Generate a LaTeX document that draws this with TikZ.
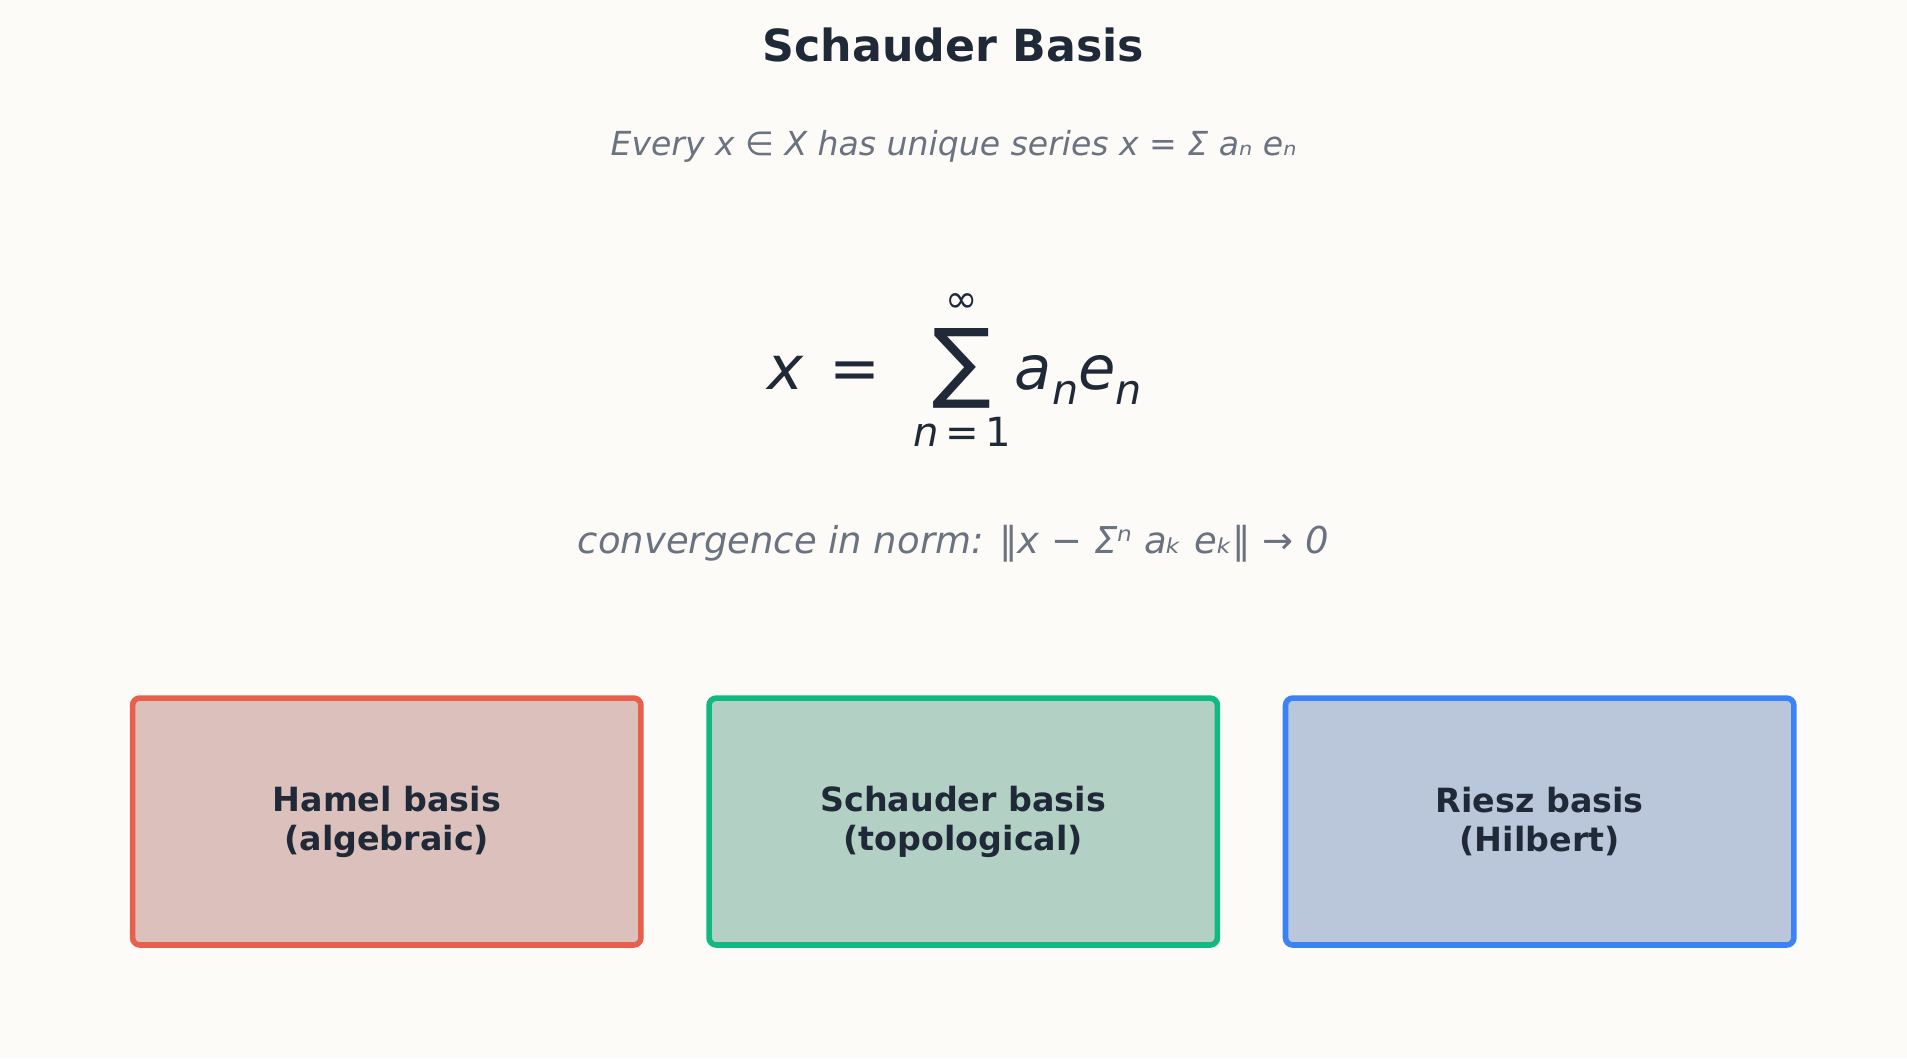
\documentclass[tikz,border=0pt]{standalone}
\usepackage{fontspec}
\setmainfont{DejaVu Sans}
\definecolor{bg}{HTML}{FCFBF8}
\definecolor{ink}{HTML}{1F2937}
\definecolor{gr}{HTML}{6B7280}
\definecolor{rB}{HTML}{E8604C}\definecolor{rF}{HTML}{DBC0BB}
\definecolor{gB}{HTML}{10B981}\definecolor{gF}{HTML}{B3D0C5}
\definecolor{bB}{HTML}{3B82F6}\definecolor{bF}{HTML}{BAC6D9}
\tikzset{
 card/.style={draw, line width=2.3pt, rounded corners=3pt, minimum width=209pt, minimum height=101.5pt, text=ink, font=\fontsize{13.7}{16}\selectfont\bfseries, align=center},
 fm/.style={text=ink, inner sep=0pt, anchor=base}
}
\begin{document}
\begin{tikzpicture}[x=0.5pt,y=-0.5pt]
\fill[bg] (0,0) rectangle (1568,870);
\useasboundingbox (0,0) rectangle (1568,870);
\node[text=ink, font=\fontsize{18.2}{20}\selectfont\bfseries] (title) at (784,37) {Schauder Basis};
\node[text=gr, font=\fontsize{13.6}{16}\selectfont\itshape] (sub) at (784,120) {Every x ∈ X has unique series x = Σ aₙ eₙ};
\node[fm, font=\fontsize{25}{28}\selectfont\itshape] (fx) at (646,320) {x};
\node[fm, font=\fontsize{25}{28}\selectfont] (eq) at (703,320) {=};
\node[fm, font=\fontsize{36}{40}\selectfont] (sig) at (791,322) {∑};
\node[fm, font=\fontsize{16}{18}\selectfont] (inf) at (791,257) {∞};
\node[fm, font=\fontsize{16.5}{18}\selectfont] (lo) at (791,367) {\textit{n}\,=\,1};
\node[fm, anchor=base west, font=\fontsize{25}{28}\selectfont\itshape] (ae) at (834,320) {a\raisebox{-0.25em}{\fontsize{17}{18}\selectfont n}e\raisebox{-0.25em}{\fontsize{17}{18}\selectfont n}};
\node[text=gr, font=\fontsize{15.2}{18}\selectfont\itshape] (conv) at (784,447) {convergence in norm: ‖x − Σⁿ aₖ eₖ‖ → 0};
\node[card, draw=rB, fill=rF] (hamel) at (318,675.5) {Hamel basis\\(algebraic)};
\node[card, draw=gB, fill=gF] (schauder) at (792,675.5) {Schauder basis\\(topological)};
\node[card, draw=bB, fill=bF] (riesz) at (1266,675.5) {Riesz basis\\(Hilbert)};
\end{tikzpicture}
\end{document}
